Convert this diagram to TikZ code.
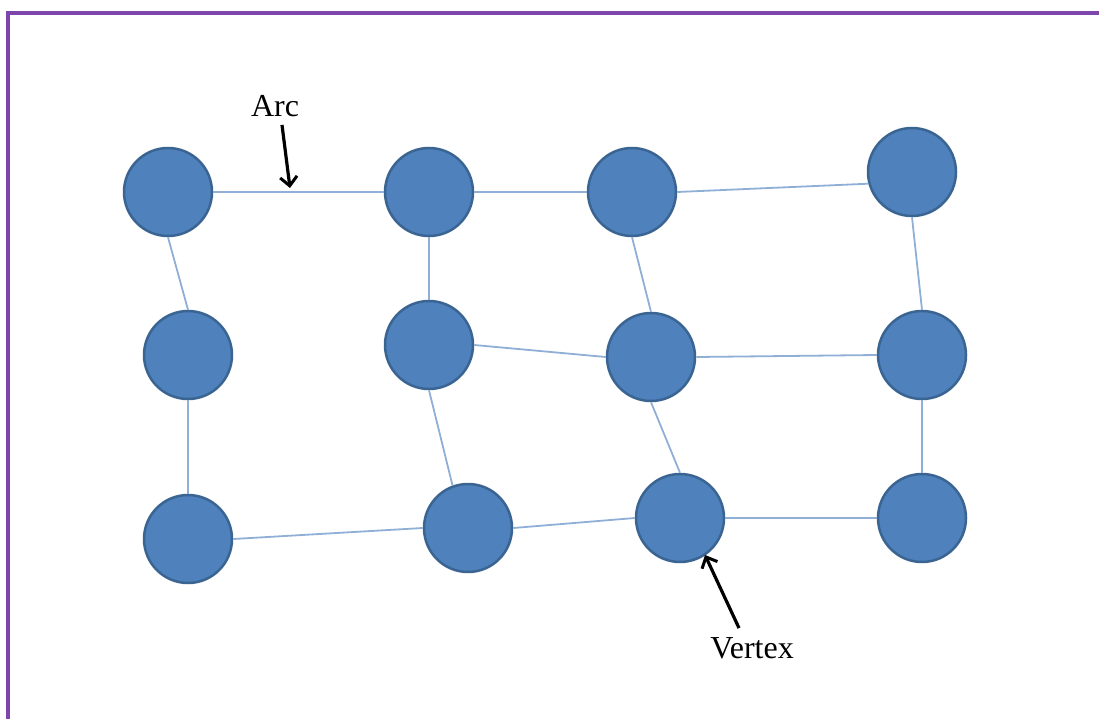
\documentclass[tikz,border=0pt]{standalone}
\usepackage{fontspec}
\setmainfont{Liberation Serif}
\usetikzlibrary{arrows.meta}
\definecolor{vfill}{HTML}{4F81BD}
\definecolor{vline}{HTML}{3A6491}
\definecolor{eline}{HTML}{8FAFD6}
\definecolor{frame}{HTML}{7E45AC}
\tikzset{
  vert/.style={circle, fill=vfill, draw=vline, line width=2.5pt, minimum size=88pt, inner sep=0pt},
  edge/.style={draw=eline, line width=1.8pt},
  lbl/.style={font=\fontsize{32}{36}\selectfont, inner sep=0pt},
  pointer/.style={draw=black, line width=3.2pt, -{Straight Barb[length=9pt,width=17pt,line width=3pt]}},
}
\begin{document}
\begin{tikzpicture}[x=1pt,y=-1pt]
\useasboundingbox (0,0) rectangle (1099,719);
\draw[frame, line width=4pt] (1120,13) -- (8,13) -- (8,740);
% vertices
\node[vert] (a1) at (168,192) {};
\node[vert] (a2) at (429,192) {};
\node[vert] (a3) at (632,192) {};
\node[vert] (a4) at (912,172) {};
\node[vert] (b1) at (188,355) {};
\node[vert] (b2) at (429,345) {};
\node[vert] (b3) at (651,357) {};
\node[vert] (b4) at (922,355) {};
\node[vert] (c1) at (188,539) {};
\node[vert] (c2) at (468,528) {};
\node[vert] (c3) at (680,518) {};
\node[vert] (c4) at (922,518) {};
% edges
\path[edge] (a1.east) -- (a2.west);
\path[edge] (a2.east) -- (a3.west);
\path[edge] (a3.east) -- (a4.195);
\path[edge] (a1.south) -- (b1.north);
\path[edge] (a2.south) -- (b2.north);
\path[edge] (a3.south) -- (b3.north);
\path[edge] (a4.south) -- (b4.north);
\path[edge] (b2.east) -- (b3.west);
\path[edge] (b3.east) -- (b4.west);
\path[edge] (b1.south) -- (c1.north);
\path[edge] (b2.south) -- (c2.110);
\path[edge] (b3.south) -- (c3.north);
\path[edge] (b4.south) -- (c4.north);
\path[edge] (c1.east) -- (c2.west);
\path[edge] (c2.east) -- (c3.west);
\path[edge] (c3.east) -- (c4.west);
% labels
\node[lbl] (arc) at (275,106) {Arc};
\coordinate (arctip) at (290,188);
\draw[pointer] (arc.south) ++(7,8) -- (arctip);
\node[lbl] (vtx) at (752,648) {Vertex};
\coordinate (vtxtip) at (705,555);
\draw[pointer] (vtx.north) ++(-13,-9) -- (vtxtip);
\end{tikzpicture}
\end{document}
